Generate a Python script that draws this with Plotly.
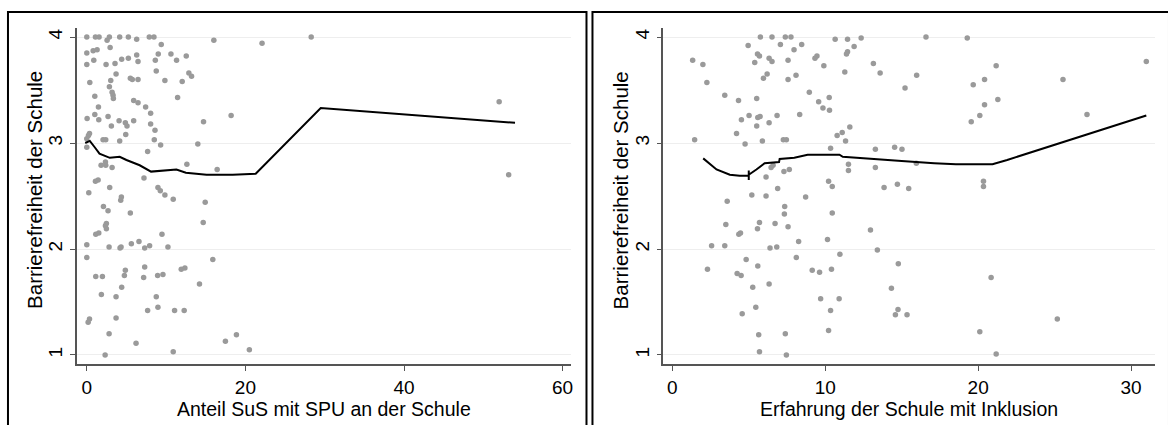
import plotly.graph_objects as go

# ---------------- data: left panel ----------------
left_x = [0.0, 1.09, 1.55, 2.56, 2.85, 4.15, 5.24, 6.29, 7.88, 8.47, 16.02, 9.39, 2.94, 0.0, 0.80, 1.30,
          0.0, 0.88, 2.43, 3.56, 4.40, 5.24, 6.29, 6.46, 8.64, 9.01, 10.61, 11.32, 12.54,
          3.69, 5.49, 5.74, 6.46, 8.76, 12.87, 13.21, 0.38, 2.85, 3.02, 9.85, 12.03,
          3.19, 3.31, 3.35, 1.01, 11.45, 1.47, 5.91, 6.46, 7.42,
          0.04, 1.01, 1.51, 2.68, 4.07, 4.86, 5.07, 5.91, 8.05, 8.05, 18.2, 14.72, 3.10, 4.91, 8.60,
          0.34, 0.21, 0.0, 2.05, 2.39, 4.15, 8.51, 9.31, 14.0, 0.0, 7.67,
          1.80, 2.39, 2.35, 3.19, 12.62, 16.44, 7.21, 1.09, 1.43,
          0.25, 2.89, 8.97, 9.27, 9.85, 4.36, 10.90,
          4.28, 14.93, 2.10, 2.68, 5.49, 14.68, 2.47, 2.35, 2.47, 1.13, 1.51, 9.48,
          0.0, 2.81, 4.19, 4.32, 5.62, 6.58, 7.30, 7.92, 10.23, 0.0, 15.89,
          7.30, 4.86, 4.74, 1.13, 1.97, 7.17, 8.93, 9.60, 11.91, 12.37,
          14.21, 4.40, 1.84, 3.69, 8.76, 7.67, 8.97, 11.07, 12.28,
          0.34, 0.17, 3.69, 2.81, 18.87, 17.48, 6.21, 2.31, 10.90,
          20.5, 22.1, 28.3, 52.0, 53.2]
left_y = [4.0, 4.0, 4.0, 3.97, 4.0, 4.0, 4.0, 3.98, 4.0, 4.0, 3.97, 3.93, 3.90, 3.85, 3.87, 3.88,
          3.74, 3.78, 3.74, 3.75, 3.79, 3.80, 3.83, 3.77, 3.78, 3.84, 3.84, 3.78, 3.82,
          3.65, 3.61, 3.60, 3.60, 3.68, 3.66, 3.63, 3.57, 3.53, 3.59, 3.59, 3.58,
          3.48, 3.45, 3.42, 3.44, 3.43, 3.34, 3.40, 3.38, 3.34,
          3.23, 3.27, 3.22, 3.25, 3.21, 3.19, 3.16, 3.21, 3.28, 3.18, 3.26, 3.20, 3.16, 3.08, 3.12,
          3.09, 3.07, 3.04, 3.03, 3.03, 3.02, 3.03, 2.98, 2.99, 2.96, 2.92,
          2.79, 2.79, 2.82, 2.77, 2.80, 2.75, 2.67, 2.64, 2.65,
          2.53, 2.58, 2.58, 2.55, 2.51, 2.49, 2.47,
          2.46, 2.44, 2.40, 2.36, 2.34, 2.25, 2.24, 2.22, 2.19, 2.14, 2.15, 2.14,
          2.04, 2.02, 2.01, 2.02, 2.05, 2.07, 2.01, 2.03, 2.02, 1.92, 1.90,
          1.83, 1.80, 1.75, 1.74, 1.74, 1.73, 1.75, 1.76, 1.81, 1.82,
          1.67, 1.64, 1.57, 1.55, 1.55, 1.42, 1.45, 1.42, 1.42,
          1.34, 1.31, 1.35, 1.20, 1.19, 1.13, 1.11, 1.00, 1.03,
          1.05, 3.94, 4.0, 3.39, 2.70]

left_fit_x = [-0.2, 0.38, 1.0, 1.6, 2.9, 4.15, 5.0, 6.67, 8.1, 9.6, 11.3, 12.5, 15.1, 18.4, 21.3, 29.5, 54.0]
left_fit_y = [3.00, 3.02, 2.96, 2.90, 2.86, 2.87, 2.84, 2.79, 2.73, 2.74, 2.75, 2.72, 2.70, 2.70, 2.71, 3.33, 3.19]

# ---------------- data: right panel ----------------
right_x = [5.76, 6.52, 7.39, 7.76, 10.65, 11.46, 12.35, 4.96, 7.07, 8.46, 7.96, 11.89,
           1.33, 2.0, 5.57, 5.70, 6.33, 6.52, 7.57, 5.39, 9.46, 9.33, 11.46, 11.39, 9.91, 13.15,
           2.26, 5.96, 6.20, 7.57, 8.09, 11.28, 13.59,
           3.43, 4.33, 5.52, 8.96, 9.57, 10.26, 9.85, 10.28,
           4.52, 5.02, 5.59, 5.74, 5.52, 6.33, 6.85, 8.33,
           4.20, 4.76, 1.46, 5.89, 7.26, 7.46, 10.78, 11.11, 11.61, 11.33,
           10.35, 13.28, 14.54, 15.02,
           6.59, 6.46, 7.30, 7.65, 11.52, 11.52, 13.28,
           6.13, 10.22, 10.46, 6.89, 13.85, 14.72,
           5.20, 6.13, 8.72, 3.59, 7.35, 7.33, 10.46,
           3.50, 4.35, 4.46, 5.70, 5.57, 6.72, 7.57, 8.26, 12.96,
           2.57, 3.43, 6.39, 6.83, 10.15, 13.41,
           4.83, 8.11, 10.96, 2.30, 4.24, 4.50, 5.59, 9.15, 9.63, 10.41, 14.78,
           5.26, 6.33, 9.70, 10.91, 5.46, 10.35, 14.33, 14.76, 14.59,
           4.57, 5.65, 7.39, 10.22, 5.70, 7.46,
           16.59, 19.29, 15.98, 15.22, 19.68, 20.42, 21.18, 20.42, 21.29, 20.11, 19.55,
           25.55, 27.12, 31.0, 15.96, 15.46, 20.35, 20.35, 20.85, 15.35, 20.11, 25.18, 21.18]
right_y = [4.0, 4.0, 4.0, 4.0, 3.98, 3.98, 3.99, 3.92, 3.93, 3.93, 3.88, 3.91,
           3.78, 3.74, 3.84, 3.82, 3.80, 3.77, 3.78, 3.76, 3.82, 3.80, 3.86, 3.84, 3.73, 3.75,
           3.57, 3.61, 3.65, 3.60, 3.64, 3.67, 3.66,
           3.45, 3.40, 3.42, 3.48, 3.39, 3.43, 3.33, 3.31,
           3.22, 3.26, 3.24, 3.25, 3.16, 3.19, 3.26, 3.27,
           3.09, 2.99, 3.03, 3.02, 3.03, 3.03, 3.07, 3.10, 3.15, 3.02,
           2.95, 2.94, 2.96, 2.94,
           2.79, 2.77, 2.73, 2.75, 2.80, 2.74, 2.77,
           2.68, 2.64, 2.59, 2.57, 2.58, 2.61,
           2.51, 2.50, 2.49, 2.45, 2.40, 2.33, 2.34,
           2.23, 2.14, 2.15, 2.25, 2.19, 2.24, 2.21, 2.07, 2.18,
           2.03, 2.03, 2.01, 2.02, 2.09, 1.99,
           1.90, 1.92, 1.95, 1.81, 1.77, 1.75, 1.84, 1.80, 1.78, 1.81, 1.86,
           1.64, 1.67, 1.53, 1.53, 1.45, 1.42, 1.63, 1.43, 1.38,
           1.39, 1.19, 1.20, 1.23, 1.03, 1.00,
           4.0, 3.99, 3.64, 3.52, 3.55, 3.60, 3.73, 3.36, 3.41, 3.26, 3.20,
           3.60, 3.27, 3.77, 2.81, 2.57, 2.64, 2.59, 1.73, 1.38, 1.22, 1.34, 1.01]

right_fit_x = [2.02, 2.89, 3.76, 4.41, 5.0, 5.0, 5.0, 5.0, 5.5, 6.04, 6.98, 7.02, 7.98, 8.85, 9.98,
               10.93, 11.15, 12.46, 13.98, 15.0, 17.13, 18.55, 20.94, 21.9, 31.0]
right_fit_y = [2.855, 2.75, 2.70, 2.69, 2.69, 2.74, 2.65, 2.70, 2.75, 2.81, 2.82, 2.85, 2.86, 2.89, 2.89,
               2.89, 2.87, 2.855, 2.84, 2.83, 2.81, 2.80, 2.80, 2.84, 3.26]

x_titles = ["Anteil SuS mit SPU an der Schule", "Erfahrung der Schule mit Inklusion"]
y_title = "Barrierefreiheit der Schule"
left_xticks = [0, 20, 40, 60]
right_xticks = [0, 10, 20, 30]
y_ticks = [1, 2, 3, 4]

# ---------------- figure ----------------
W, H = 1168, 425
FONT = "Liberation Sans, Arial, sans-serif"
DOT = "#9a9a9a"

def px(v):
    return v / W

def py(v):
    return 1 - v / H

fig = go.Figure()
fig.add_trace(go.Scatter(x=left_x, y=left_y, mode="markers", xaxis="x", yaxis="y",
                         marker=dict(size=5.5, color=DOT), showlegend=False))
fig.add_trace(go.Scatter(x=left_fit_x, y=left_fit_y, mode="lines", xaxis="x", yaxis="y",
                         line=dict(color="black", width=2), showlegend=False))
fig.add_trace(go.Scatter(x=right_x, y=right_y, mode="markers", xaxis="x2", yaxis="y2",
                         marker=dict(size=5.5, color=DOT), showlegend=False))
fig.add_trace(go.Scatter(x=right_fit_x, y=right_fit_y, mode="lines", xaxis="x2", yaxis="y2",
                         line=dict(color="black", width=2), showlegend=False))

ax_common = dict(showline=True, linecolor="#555555", linewidth=1.5, ticks="outside",
                 ticklen=5, tickwidth=1, tickcolor="#555555", zeroline=False,
                 tickfont=dict(family=FONT, size=19, color="black"))

ydom = [py(364), py(28)]
fig.update_layout(
    width=W, height=H,
    margin=dict(l=0, r=0, t=0, b=0),
    paper_bgcolor="white", plot_bgcolor="white",
    xaxis=dict(domain=[px(77), px(572)], range=[-1.26, 61.0], tickvals=left_xticks,
               showgrid=False, anchor="y", **ax_common),
    yaxis=dict(domain=ydom, range=[0.915, 4.085], tickvals=y_ticks, tickangle=-90,
               showgrid=True, gridcolor="#eeeeee", gridwidth=1, anchor="x", **ax_common),
    xaxis2=dict(domain=[px(665), px(1158)], range=[-0.59, 31.57], tickvals=right_xticks,
                showgrid=False, anchor="y2", **ax_common),
    yaxis2=dict(domain=ydom, range=[0.915, 4.085], tickvals=y_ticks, tickangle=-90,
                showgrid=True, gridcolor="#eeeeee", gridwidth=1, anchor="x2", **ax_common),
)

annos = [
    dict(text=x_titles[0], x=px(324.5), y=py(409), size=19.5),
    dict(text=x_titles[1], x=px(911.5), y=py(409), size=19.5),
    dict(text=y_title, x=px(35), y=py(190), textangle=-90, size=20.5),
    dict(text=y_title, x=px(623), y=py(190), textangle=-90, size=20.5),
]
for a in annos:
    size = a.pop("size")
    fig.add_annotation(xref="paper", yref="paper", showarrow=False, xanchor="center",
                       yanchor="middle", font=dict(family=FONT, size=size, color="black"), **a)

# panel frames
fig.add_shape(type="rect", xref="paper", yref="paper", x0=px(8), x1=px(588), y0=py(428), y1=py(12),
              line=dict(color="black", width=2))
fig.add_shape(type="rect", xref="paper", yref="paper", x0=px(594), x1=px(1172), y0=py(428), y1=py(12),
              line=dict(color="black", width=2))

fig.write_html("out.html")
